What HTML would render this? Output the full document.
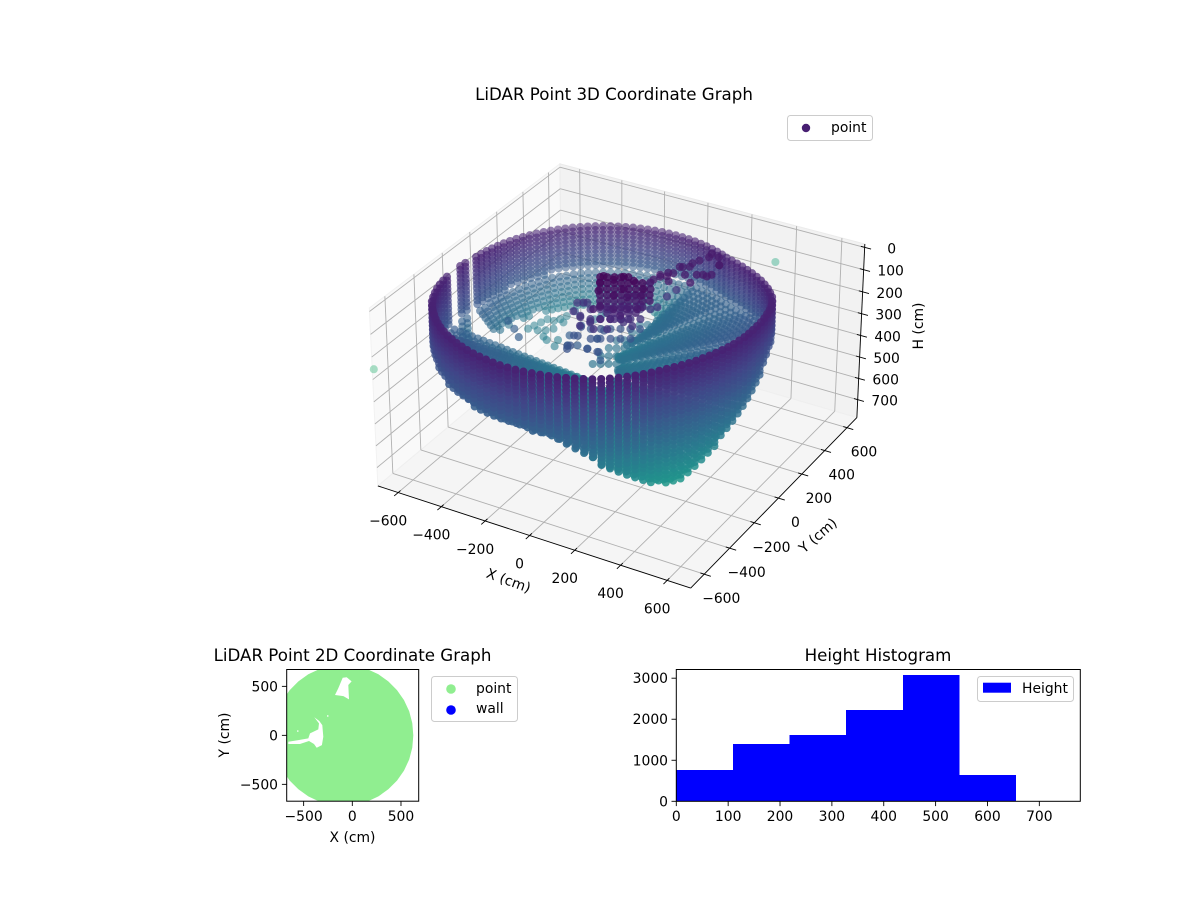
<!DOCTYPE html>
<html>
<head>
<meta charset="utf-8">
<title>LiDAR Point Coordinate Graphs</title>
<style>
html,body{margin:0;padding:0;background:#fff;}
svg{display:block;}
text{font-family:"DejaVu Sans","Liberation Sans",sans-serif;font-size:13.9px;fill:#000;}
.title{font-size:16.67px;}
</style>
</head>
<body>
<svg id="chart" xmlns="http://www.w3.org/2000/svg" width="1200" height="900" viewBox="0 0 1200 900">
  <rect width="1200" height="900" fill="#fff"/>
  <defs>
    <clipPath id="clip2d"><rect x="286.7" y="669.5" width="132" height="131.7"/></clipPath>
  </defs>
  <g id="panes3d"></g>
  <g id="grid3d"></g>
  <g id="axes3d"></g>
  <g id="cloud3d"></g>
  <text class="title" x="614" y="100" text-anchor="middle">LiDAR Point 3D Coordinate Graph</text>
  <text x="0" y="0" text-anchor="middle" transform="translate(507,585) rotate(20)">X (cm)</text>
  <text x="0" y="0" text-anchor="middle" transform="translate(821,539) rotate(-41)">Y (cm)</text>
  <text x="0" y="0" text-anchor="middle" transform="translate(923,326) rotate(-90)">H (cm)</text>
  <g>
    <rect x="787.5" y="115.5" width="85" height="25" rx="3" fill="#fff" fill-opacity="0.8" stroke="#ccc"/>
    <circle cx="806" cy="128" r="4.2" fill="#471f72"/>
    <text x="831" y="132">point</text>
  </g>

  <g id="scatter2d"></g>
  <rect x="286.7" y="669.5" width="132" height="131.7" fill="none" stroke="#000" stroke-width="1"/>
  <g id="axes2d"></g>
  <text class="title" x="352.5" y="661" text-anchor="middle">LiDAR Point 2D Coordinate Graph</text>
  <text x="352.5" y="842" text-anchor="middle">X (cm)</text>
  <text x="0" y="0" text-anchor="middle" transform="translate(229,735) rotate(-90)">Y (cm)</text>
  <g>
    <rect x="431.5" y="676.5" width="86" height="45" rx="3" fill="#fff" stroke="#ccc"/>
    <circle cx="451" cy="689" r="4.8" fill="#90ee90"/>
    <text x="476" y="693">point</text>
    <circle cx="451" cy="710" r="4.8" fill="#0000ff"/>
    <text x="476" y="713">wall</text>
  </g>

  <g id="bars" shape-rendering="crispEdges"></g>
  <rect x="676.3" y="669.5" width="404" height="131.8" fill="none" stroke="#000" stroke-width="1"/>
  <g id="axesHist"></g>
  <text class="title" x="878" y="661" text-anchor="middle">Height Histogram</text>
  <g>
    <rect x="977.5" y="676.5" width="96" height="25" rx="3" fill="#fff" fill-opacity="0.8" stroke="#ccc"/>
    <rect x="983" y="682.7" width="28" height="10" fill="#0000ff"/>
    <text x="1022" y="693">Height</text>
  </g>
</svg>
<script>
// ---------- 3D chart data ----------
var xTicks3d = [-600,-400,-200,0,200,400,600];
var yTicks3d = [-600,-400,-200,0,200,400,600];
var hTicks3d = [0,100,200,300,400,500,600,700];
var xLim3d = [-695,700];
var yLim3d = [-705,690];
var hLim3d = [-15,785];
var ringCenterX = -90;
var ringCenterY = 0;
var floorStep = 24;
var minFloorRows = 7;
var colorMaxH = 1180;
var scanLevels = [110,128,146,164,182,200,218,236,254,272,290,308,326,344,362,380,398,416,434,452,470,488,506,524,542,560,578,596,614,632,650,668];
var columnAzimuth = [-180,-177,-174,-171,-168,-165,-162,-159,-156,-153,-150,-147,-144,-141,-138,-135,-132,-129,-126,-123,-120,-117,-114,-111,-108,-105,-102,-99,-96,-93,-90,-87,-84,-81,-78,-75,-72,-69,-66,-63,-60,-57,-54,-51,-48,-45,-42,-39,-36,-33,-30,-27,-24,-21,-18,-15,-12,-9,-6,-3,0,3,6,9,12,15,18,21,24,27,30,33,36,39,42,45,48,51,54,57,60,63,66,69,72,75,78,81,84,87,90,93,96,99,102,105,108,111,114,117,120,123,126,129,132,135,138,141,144,147,150,153,156,159,162,165,168,171,174,177];
var columnRadius = [605,610,616,622,627,632,638,643,648,652,656,660,660,660,660,660,660,659,658,657,655,654,652,651,649,647,646,645,644,642,640,638,635,633,631,630,628,627,626,625,622,619,616,613,610,607,604,602,600,600,601,602,603,604,606,609,612,615,618,621,625,628,631,635,640,645,649,654,658,660,660,655,650,643,636,628,620,612,605,598,592,588,588,588,588,588,588,588,588,588,588,588,588,588,588,588,588,588,588,588,588,588,588,588,588,588,588,588,588,588,589,590,591,592,593,594,595,596,598,600];
var wallEndH = [0,340,340,0,0,340,340,340,340,290,290,290,290,290,295,302,310,318,325,330,335,338,341,343,345,346,347,349,351,353,357,361,365,371,379,390,403,420,440,465,500,515,530,545,565,582,598,610,620,625,618,602,585,565,545,525,505,485,465,445,425,402,385,365,345,322,300,285,275,270,270,270,275,280,285,290,295,300,300,300,300,300,300,300,300,300,300,300,300,300,300,300,300,300,300,300,300,300,300,300,300,300,300,300,302,305,305,305,308,310,312,315,320,325,330,330,330,330,340,340];
var floorEndR = [60,605,610,60,60,60,60,60,60,60,60,60,60,60,60,60,60,60,60,60,60,60,60,60,60,60,60,60,60,60,60,60,60,60,60,60,60,60,60,60,60,60,60,60,60,60,60,60,60,60,60,60,60,60,60,60,60,60,60,60,60,60,60,60,60,60,60,60,60,60,60,60,60,60,60,60,60,60,60,60,100,120,150,180,220,260,300,340,370,400,420,440,460,480,510,510,510,510,510,510,510,510,510,510,510,510,510,510,510,510,510,510,510,510,510,510,510,510,510,510];
var floorEndH = [500,500,500,500,500,500,500,500,500,500,500,500,500,500,500,500,500,500,500,500,500,500,500,500,500,500,500,500,500,500,500,500,500,500,500,500,500,500,500,500,500,500,500,500,500,500,500,500,500,500,470,470,470,470,470,470,470,470,470,470,430,430,430,430,430,430,430,430,430,430,400,400,400,400,400,400,400,400,400,400,360,360,360,360,360,360,360,430,430,430,430,430,430,430,430,430,430,430,430,430,430,430,430,430,430,430,430,430,430,430,430,430,430,430,430,430,430,430,430,430];
var clusterX = [-88,-83,-64,-48,-8,33,81,79,18,-3,40,-35,-53,14,50,-27,7,45,93,86,-180,-151,-91,-214,-112,-54,-201,-171,-103,-109,-173,-118,-87,-44,-49,-45,73,82,98,79,113,121,141,175,208,41,177,207,218,128,168,44,-570,-561,-551,-542,-512,-497,-487,-472,-529,-501,-480,-482,-457,-417,-403,-533,-478,-428,-261,-342,-345,-228,-194,-147,-153,-57,-95,-261,-320,-329,-316,
  -90,-66,-42,-19,5,-76,-52,-28,-5,19,43,66,-65,-41,-17,6,30,54,77,-60,-36,-12,11,35,59,82,106,-54,-30,-6,17,41,65,88,112,-48,-24,0,23,47,71,94,-27,-3,20,44,68,3,26,50,
  -194,-193,-146,-96,-212,-187,-182,-57,-8,19,64,6,59,75,66,72,41,52,63,90,108,189,207,137,
  -163,-136,-109,-82,-55,-159,-132,-105,-78,-51,-155,-128,-101,-74,-47,-167,-140,-113,-86,-59,-144,-117,-90,-63,-148,-121,-94,-67,-98,-71,
  -143,-110,-76,-42,-8,25,-104,-70,-37,-3,31,64,-170,-136,-103,-69,-35,-2,-131,-98,-64,-30,4];
var clusterY = [8,-27,-72,17,26,33,27,6,-19,-62,-31,-109,-130,-91,-49,-123,-104,-93,-45,70,39,-64,-90,19,-132,-128,-30,-133,-94,-7,-105,62,33,87,174,297,223,258,192,316,336,400,443,462,301,174,224,406,322,270,293,221,220,255,291,327,328,353,388,337,229,245,272,197,180,203,153,14,-29,-76,36,214,286,-35,-16,-18,68,-71,-19,126,384,348,416,
  -14,-1,13,26,40,-39,-26,-12,1,15,29,42,-57,-44,-30,-17,-3,11,24,-67,-54,-40,-27,-13,1,14,28,-77,-64,-50,-37,-23,-9,4,18,-87,-74,-60,-47,-33,-19,-6,-69,-55,-42,-28,-14,-66,-53,-39,
  33,-46,-73,-81,42,-25,-113,-94,-102,-24,-33,131,117,145,238,304,148,208,251,320,367,305,406,473,
  175,190,206,222,237,105,121,136,152,168,35,51,67,82,98,244,260,276,291,307,330,345,361,377,399,415,431,446,500,516,
  0,20,39,58,78,97,-67,-47,-28,-8,11,30,47,67,86,106,125,144,-20,0,19,39,58];
var clusterH = [20,30,40,30,10,20,40,60,35,50,60,80,90,90,100,130,130,110,90,60,180,180,180,180,180,180,300,300,300,300,300,300,180,180,180,180,80,80,80,80,80,80,80,80,80,80,80,80,80,80,80,80,500,500,500,500,500,500,500,500,500,500,500,500,500,500,500,350,350,350,350,350,350,350,350,350,350,350,350,350,450,450,450,
  15,15,15,15,15,25,25,25,25,25,25,25,40,40,40,40,40,40,40,60,60,60,60,60,60,60,60,80,80,80,80,80,80,80,80,100,100,100,100,100,100,100,130,130,130,130,130,150,150,150,
  180,180,180,180,300,300,300,300,180,180,180,180,180,180,180,180,80,80,80,80,80,80,80,80,
  450,450,450,450,450,450,450,450,450,450,450,450,450,450,450,450,450,450,450,450,450,450,450,450,450,450,450,450,450,450,
  180,180,180,180,180,180,180,180,180,180,180,180,300,300,300,300,300,300,300,300,300,300,300];
var outlierX = [-695,356];
var outlierY = [-695,600];
var outlierH = [259,117];
var outlierColorValue = [770,720];

// ---------- 2D chart data ----------
var xTicks2d = [-500,0,500];
var yTicks2d = [-500,0,500];
var xLim2d = [-674,682];
var yLim2d = [-672,672];
var coverX = [627,616,584,531,459,370,268,154,33,-92,-217,-338,-452,-554,-643,-715,-768,-800,-811,-800,-768,-715,-643,-554,-452,-338,-217,-92,33,154,268,370,459,531,584,616];
var coverY = [0,125,246,360,462,551,623,676,708,719,708,676,623,551,462,360,246,125,0,-125,-246,-360,-462,-551,-623,-676,-708,-719,-708,-676,-623,-551,-462,-360,-246,-125];
var holeTopX = [-178,-144,-99,-58,-7,-41,-34,-92];
var holeTopY = [412,480,588,592,551,514,367,401];
var holeMidX = [-390,-339,-308,-298,-312,-366,-394,-445,-538,-658,-658,-555,-452,-435,-349,-342];
var holeMidY = [184,146,105,-14,-99,-126,-88,-58,-88,-88,-65,-48,-31,20,61,122];
var specksX = [-560,-252];
var specksY = [44,198];

// ---------- Histogram data ----------
var binEdges = [0,109.2,218.4,327.6,436.8,546,655.2,764.4];
var binCounts = [764,1398,1618,2228,3081,642,0];
var histXTicks = [0,100,200,300,400,500,600,700];
var histYTicks = [0,1000,2000,3000];
var histXLim = [0,779];
var histYLim = [0,3212];

// ---------- helpers ----------
var NS = 'http://www.w3.org/2000/svg';
var MINUS = '\u2212';
function fmt(v){ return v < 0 ? MINUS + Math.abs(v) : String(v); }
function mk(tag, attrs, parent){
  var el = document.createElementNS(NS, tag);
  for (var k in attrs) el.setAttribute(k, attrs[k]);
  parent.appendChild(el);
  return el;
}
function line(parent, a, b, color, width, name){
  var el = mk('line', {x1:a[0], y1:a[1], x2:b[0], y2:b[1], stroke:color, 'stroke-width':width}, parent);
  
  
  return el;
}
function label(parent, x, y, str, anchor, name){
  var el = mk('text', {x:x, y:y, 'text-anchor':anchor}, parent);
  el.textContent = str;
  
  
  return el;
}

// ---------- 3D projection (azim -60, elev 30, dist 10) ----------
var boxW = 1.1905, boxH = 0.681, centerZ = 0.446;
var U = [0.8660254, 0.5, 0];
var V = [-0.25, 0.4330127, 0.8660254];
var W = [0.4330127, -0.75, 0.5];
var SCALE3D = 3010, CX3D = 621.8, CY3D = 337.4;
function proj(x, y, h){
  var rx = (x - xLim3d[0]) / (xLim3d[1] - xLim3d[0]) * boxW - boxW / 2;
  var ry = (y - yLim3d[0]) / (yLim3d[1] - yLim3d[0]) * boxW - boxW / 2;
  var rz = (hLim3d[1] - h) / (hLim3d[1] - hLim3d[0]) * boxH - centerZ;
  var xe = U[0]*rx + U[1]*ry + U[2]*rz;
  var ye = V[0]*rx + V[1]*ry + V[2]*rz;
  var d  = W[0]*rx + W[1]*ry + W[2]*rz;
  var s = SCALE3D / (10 - d);
  return [CX3D + xe*s, CY3D - ye*s, d];
}
function polyPts(list){
  return list.map(function(p){ return p[0].toFixed(1) + ',' + p[1].toFixed(1); }).join(' ');
}
var viridis = [[68,1,84],[72,36,117],[65,68,135],[53,95,141],[42,120,142],[33,145,140],[34,168,132],[68,191,112],[122,209,81],[189,223,38],[253,231,37]];
function viridisColor(t){
  t = Math.max(0, Math.min(0.999, t)) * 10;
  var i = Math.floor(t), f = t - i, a = viridis[i], b = viridis[i+1];
  return 'rgb(' + Math.round(a[0]+(b[0]-a[0])*f) + ',' + Math.round(a[1]+(b[1]-a[1])*f) + ',' + Math.round(a[2]+(b[2]-a[2])*f) + ')';
}

// panes
(function(){
  var g = document.getElementById('panes3d');
  var x0 = xLim3d[0], x1 = xLim3d[1], y0 = yLim3d[0], y1 = yLim3d[1], h0 = hLim3d[0], h1 = hLim3d[1];
  var a = mk('polygon', {points: polyPts([proj(x0,y0,h0),proj(x0,y1,h0),proj(x0,y1,h1),proj(x0,y0,h1)]), fill:'#f9f9f9', stroke:'#f2f2f2'}, g);
  
  
  var b = mk('polygon', {points: polyPts([proj(x0,y1,h0),proj(x1,y1,h0),proj(x1,y1,h1),proj(x0,y1,h1)]), fill:'#f2f2f2', stroke:'#ebebeb'}, g);
  
  
  var c = mk('polygon', {points: polyPts([proj(x0,y0,h1),proj(x1,y0,h1),proj(x1,y1,h1),proj(x0,y1,h1)]), fill:'#f5f5f5', stroke:'#efefef'}, g);
  
  
})();

// grid, axis lines, ticks
(function(){
  var g = document.getElementById('grid3d');
  var ax = document.getElementById('axes3d');
  var x0 = xLim3d[0], x1 = xLim3d[1], y0 = yLim3d[0], y1 = yLim3d[1], h0 = hLim3d[0], h1 = hLim3d[1];
  var GC = '#b0b0b0', GW = 0.9;
  var rangeX = x1 - x0, rangeY = y1 - y0;
  xTicks3d.forEach(function(t){
    line(g, proj(t,y0,h1), proj(t,y1,h1), GC, GW, 'x-grid-floor');
    line(g, proj(t,y1,h1), proj(t,y1,h0), GC, GW, 'x-grid-wall');
    line(ax, proj(t,y0-0.02*rangeY,h1), proj(t,y0+0.012*rangeY,h1), '#000', 0.9, 'x-tick');
    var p = proj(t,y0,h1);
    label(ax, p[0]-10, p[1]+33, fmt(t), 'middle', 'x-tick-label');
  });
  yTicks3d.forEach(function(t){
    line(g, proj(x0,t,h1), proj(x1,t,h1), GC, GW, 'y-grid-floor');
    line(g, proj(x0,t,h1), proj(x0,t,h0), GC, GW, 'y-grid-wall');
    line(ax, proj(x1+0.02*rangeX,t,h1), proj(x1-0.012*rangeX,t,h1), '#000', 0.9, 'y-tick');
    var p = proj(x1,t,h1);
    label(ax, p[0]+17, p[1]+29, fmt(t), 'middle', 'y-tick-label');
  });
  hTicks3d.forEach(function(t){
    line(g, proj(x0,y0,t), proj(x0,y1,t), GC, GW, 'h-grid-left');
    line(g, proj(x0,y1,t), proj(x1,y1,t), GC, GW, 'h-grid-back');
    line(ax, proj(x1-0.012*rangeX,y1,t), proj(x1+0.02*rangeX,y1,t), '#000', 0.9, 'h-tick');
    var p = proj(x1,y1,t);
    label(ax, p[0]+27, p[1]+6, String(t), 'middle', 'h-tick-label');
  });
  line(ax, proj(x0,y0,h1), proj(x1,y0,h1), '#000', 0.9, 'x-axis-line');
  line(ax, proj(x1,y0,h1), proj(x1,y1,h1), '#000', 0.9, 'y-axis-line');
  line(ax, proj(x1,y1,h1), proj(x1,y1,h0), '#000', 0.9, 'h-axis-line');
})();

// point cloud
(function(){
  var pts = [];
  for (var i = 0; i < columnAzimuth.length; i++){
    if (!wallEndH[i]) continue;
    var a = columnAzimuth[i] * Math.PI / 180;
    var ca = Math.cos(a), sa = Math.sin(a);
    var R = columnRadius[i];
    var backShift = 0.35 * Math.max(0, sa);
    for (var j = 0; j < scanLevels.length; j++){
      if (scanLevels[j] > wallEndH[i]) break;
      pts.push({x: ringCenterX + R*ca, y: ringCenterY + R*sa, h: scanLevels[j], c: scanLevels[j] + (scanLevels[j]-110)*backShift});
    }
    var span = R - floorEndR[i];
    var step = Math.min(floorStep, span / minFloorRows);
    if (span <= 0) continue;
    for (var r = R - step; r > floorEndR[i]; r -= step){
      var f = (R - r) / span;
      var fh = wallEndH[i] + (floorEndH[i] - wallEndH[i]) * f;
      pts.push({x: ringCenterX + r*ca, y: ringCenterY + r*sa, h: fh, c: fh + (fh-110)*backShift});
    }
  }
  for (var k = 0; k < clusterX.length; k++){
    pts.push({x: clusterX[k], y: clusterY[k], h: clusterH[k], c: clusterH[k]});
  }
  var dMin = Infinity, dMax = -Infinity;
  pts.forEach(function(p){
    p.s = proj(p.x, p.y, p.h);
    if (p.s[2] < dMin) dMin = p.s[2];
    if (p.s[2] > dMax) dMax = p.s[2];
  });
  pts.forEach(function(p){
    p.o = 0.5 + 0.5*(p.s[2]-dMin)/(dMax-dMin);
  });
  for (var m = 0; m < outlierX.length; m++){
    pts.push({x: outlierX[m], y: outlierY[m], h: outlierH[m], c: outlierColorValue[m], s: proj(outlierX[m], outlierY[m], outlierH[m]), o: 0.42});
  }
  pts.sort(function(a,b){ return a.s[2] - b.s[2]; });
  var frag = document.createDocumentFragment();
  pts.forEach(function(p){
    var el = document.createElementNS(NS, 'circle');
    el.setAttribute('cx', p.s[0].toFixed(1));
    el.setAttribute('cy', p.s[1].toFixed(1));
    el.setAttribute('r', '4.05');
    el.setAttribute('fill', viridisColor(p.c / colorMaxH));
    el.setAttribute('fill-opacity', p.o.toFixed(2));
    
    
    frag.appendChild(el);
  });
  document.getElementById('cloud3d').appendChild(frag);
})();

// 2D chart
function sx2d(v){ return 286.7 + (v - xLim2d[0]) / (xLim2d[1] - xLim2d[0]) * 132; }
function sy2d(v){ return 801.2 - (v - yLim2d[0]) / (yLim2d[1] - yLim2d[0]) * 131.7; }
function ringPath(xs, ys){
  var d = '';
  for (var i = 0; i < xs.length; i++){
    d += (i ? 'L' : 'M') + sx2d(xs[i]).toFixed(1) + ' ' + sy2d(ys[i]).toFixed(1);
  }
  return d + 'Z';
}
(function(){
  var g = document.getElementById('scatter2d');
  g.setAttribute('clip-path', 'url(#clip2d)');
  var d = ringPath(coverX, coverY) + ringPath(holeTopX, holeTopY) + ringPath(holeMidX, holeMidY);
  var region = mk('path', {d:d, fill:'#90ee90', 'fill-rule':'evenodd'}, g);
  
  
  for (var i = 0; i < specksX.length; i++){
    var s = mk('circle', {cx:sx2d(specksX[i]), cy:sy2d(specksY[i]), r:0.8, fill:'#fff'}, g);
    
    
  }
  var ax = document.getElementById('axes2d');
  xTicks2d.forEach(function(t){
    var x = sx2d(t);
    line(ax, [x,801.2], [x,806], '#000', 0.9, 'x-tick-2d');
    label(ax, x, 821, fmt(t), 'middle', 'x-tick-label-2d');
  });
  yTicks2d.forEach(function(t){
    var y = sy2d(t);
    line(ax, [286.7,y], [281.9,y], '#000', 0.9, 'y-tick-2d');
    label(ax, 278, y+5, fmt(t), 'end', 'y-tick-label-2d');
  });
})();

// Histogram
function sxH(v){ return 676.3 + (v - histXLim[0]) / (histXLim[1] - histXLim[0]) * 404; }
function syH(v){ return 801.3 - (v - histYLim[0]) / (histYLim[1] - histYLim[0]) * 131.8; }
(function(){
  var g = document.getElementById('bars');
  for (var i = 0; i < binCounts.length; i++){
    var x0 = sxH(binEdges[i]), x1 = sxH(binEdges[i+1]), y = syH(binCounts[i]);
    var r = mk('rect', {x:x0, y:y, width:x1-x0, height:801.3-y, fill:'#0000ff'}, g);
    
    
  }
  var ax = document.getElementById('axesHist');
  histXTicks.forEach(function(t){
    var x = sxH(t);
    line(ax, [x,801.3], [x,806.1], '#000', 0.9, 'histogram-x-tick');
    label(ax, x, 821, String(t), 'middle', 'histogram-x-tick-label');
  });
  histYTicks.forEach(function(t){
    var y = syH(t);
    line(ax, [676.3,y], [671.5,y], '#000', 0.9, 'histogram-y-tick');
    label(ax, 668, y+5, String(t), 'end', 'histogram-y-tick-label');
  });
})();
</script>
</body>
</html>
